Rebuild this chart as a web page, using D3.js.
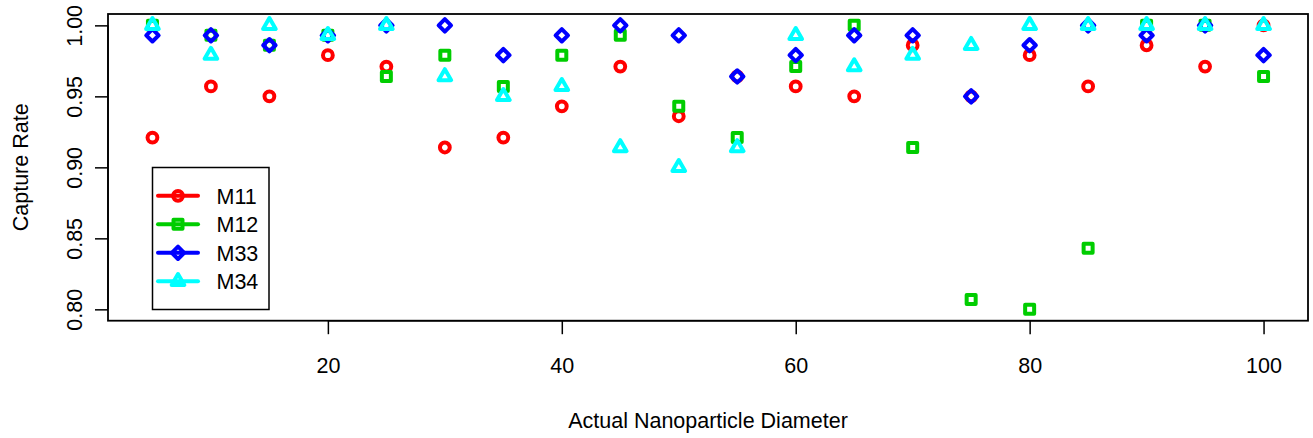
<!DOCTYPE html>
<html>
<head>
<meta charset="utf-8">
<script src="https://cdn.jsdelivr.net/npm/d3@7"></script>
<style>
  html, body { margin: 0; padding: 0; background: #fff; }
  svg { display: block; }
  text { font-family: "Liberation Sans", Arial, Helvetica, sans-serif; fill: #000; }
</style>
</head>
<body>
<svg id="chart" width="1313" height="438"></svg>
<script>
// ---- data ----
const diameters = [5,10,15,20,25,30,35,40,45,50,55,60,65,70,75,80,85,90,95,100];
const M11 = [0.921,0.957,0.950,0.979,0.971,0.914,0.921,0.943,0.971,0.936,0.964,0.957,0.950,0.986,0.950,0.979,0.957,0.986,0.971,1.000];
const M12 = [1.000,0.993,0.986,0.993,0.964,0.979,0.957,0.979,0.993,0.943,0.921,0.971,1.000,0.914,0.807,0.800,0.843,1.000,1.000,0.964];
const M33 = [0.993,0.993,0.986,0.993,1.000,1.000,0.979,0.993,1.000,0.993,0.964,0.979,0.993,0.993,0.950,0.986,1.000,0.993,1.000,0.979];
const M34 = [1.000,0.979,1.000,0.993,1.000,0.964,0.950,0.957,0.914,0.900,0.914,0.993,0.971,0.979,0.986,1.000,1.000,1.000,1.000,1.000];
const seriesNames = ["M11","M12","M33","M34"];
const seriesColors = ["#FF0000","#00CD00","#0000FF","#00FFFF"];
const seriesShapes = ["circle","square","diamond","triangle"];
const xTicks = [20,40,60,80,100];
const yTicks = [0.80,0.85,0.90,0.95,1.00];
const xTitle = "Actual Nanoparticle Diameter";
const yTitle = "Capture Rate";

const seriesValues = [M11, M12, M33, M34];

// ---- layout ----
const pL = 108, pR = 1308, pT = 14, pB = 320.7;
const FS = 21.5;

const svg = d3.select("#chart");

// R-style 4% domain extension
const xd = [d3.min(diameters), d3.max(diameters)];
const xpad = (xd[1]-xd[0])*0.04;
const x = d3.scaleLinear().domain([xd[0]-xpad, xd[1]+xpad]).range([pL, pR]);
const yd = [0.80, 1.00];
const ypad = (yd[1]-yd[0])*0.04;
const y = d3.scaleLinear().domain([yd[0]-ypad, yd[1]+ypad]).range([pB, pT]);

// marker drawing
function markerPath(shape, cx, cy) {
  const p = d3.path();
  if (shape === "circle") {
    const r = 4.9;
    p.moveTo(cx + r, cy);
    p.arc(cx, cy, r, 0, 2*Math.PI);
    p.closePath();
  } else if (shape === "square") {
    const h = 4.5;
    p.rect(cx - h, cy - h, 2*h, 2*h);
  } else if (shape === "diamond") {
    const h = 6.2;
    p.moveTo(cx, cy - h); p.lineTo(cx + h, cy); p.lineTo(cx, cy + h); p.lineTo(cx - h, cy); p.closePath();
  } else if (shape === "triangle") {
    const s = 4.7;
    const r = 1.5551*s, xc = 1.3468*s, yc = 0.7776*s;
    p.moveTo(cx, cy - r); p.lineTo(cx + xc, cy + yc); p.lineTo(cx - xc, cy + yc); p.closePath();
  }
  return p.toString();
}

// points
seriesValues.forEach((vals, si) => {
  const pts = diameters.map((d, i) => ({x: d, y: vals[i]}));
  svg.append("g")
    .selectAll("path")
    .data(pts)
    .join("path")
    .attr("d", d => markerPath(seriesShapes[si], x(d.x), y(d.y)))
    .attr("fill", "none")
    .attr("stroke", seriesColors[si])
    .attr("stroke-width", 4)
    .attr("stroke-linejoin", "round");
});

// box
svg.append("rect")
  .attr("x", pL).attr("y", pT)
  .attr("width", pR-pL).attr("height", pB-pT)
  .attr("fill", "none").attr("stroke", "#000").attr("stroke-width", 1.8);

// x axis
const xAxis = d3.axisBottom(x).tickValues(xTicks).tickSize(13.5).tickFormat(d3.format("d"));
const gx = svg.append("g").attr("transform", `translate(0,${pB})`).call(xAxis);
gx.select(".domain").attr("d", `M${x(xTicks[0])},0H${x(xTicks[xTicks.length-1])}`).attr("stroke", "#000").attr("stroke-width", 1.5);
gx.selectAll(".tick line").attr("stroke", "#000").attr("stroke-width", 1.5);
gx.selectAll(".tick text")
  .attr("y", 373 - pB).attr("dy", null)
  .style("font-family", '"Liberation Sans", Arial, sans-serif')
  .style("font-size", FS + "px").attr("fill", "#000");

// y axis
const yAxis = d3.axisLeft(y).tickValues(yTicks).tickSize(13).tickFormat(d3.format(".2f"));
const gy = svg.append("g").attr("transform", `translate(${pL},0)`).call(yAxis);
gy.select(".domain").attr("d", `M0,${y(yTicks[0])}V${y(yTicks[yTicks.length-1])}`).attr("stroke", "#000").attr("stroke-width", 1.5);
gy.selectAll(".tick line").attr("stroke", "#000").attr("stroke-width", 1.5);
gy.selectAll(".tick text")
  .attr("x", null).attr("y", null).attr("dy", null)
  .attr("text-anchor", "middle")
  .attr("transform", `translate(${82 - pL},0) rotate(-90)`)
  .style("font-family", '"Liberation Sans", Arial, sans-serif')
  .style("font-size", FS + "px").attr("fill", "#000");

// titles
svg.append("text")
  .attr("x", (pL+pR)/2).attr("y", 428)
  .attr("text-anchor", "middle")
  .style("font-size", FS + "px")
  .text(xTitle);
svg.append("text")
  .attr("transform", `translate(28,${(pT+pB)/2}) rotate(-90)`)
  .attr("text-anchor", "middle")
  .style("font-size", FS + "px")
  .text(yTitle);

// legend
const lg = svg.append("g");
lg.append("rect")
  .attr("x", 152.5).attr("y", 167.5).attr("width", 116.5).attr("height", 142)
  .attr("fill", "#fff").attr("stroke", "#000").attr("stroke-width", 1.5);
const rowY = i => 195.8 + i*28.5;
seriesNames.forEach((name, i) => {
  const cy = rowY(i);
  lg.append("line")
    .attr("x1", 158).attr("x2", 198).attr("y1", cy).attr("y2", cy)
    .attr("stroke", seriesColors[i]).attr("stroke-width", 4).attr("stroke-linecap", "round");
  lg.append("path")
    .attr("d", markerPath(seriesShapes[i], 178, cy))
    .attr("fill", "none").attr("stroke", seriesColors[i]).attr("stroke-width", 4).attr("stroke-linejoin", "round");
  lg.append("text")
    .attr("x", 216.5).attr("y", cy + 7.7)
    .style("font-size", FS + "px")
    .text(name);
});
</script>
</body>
</html>
